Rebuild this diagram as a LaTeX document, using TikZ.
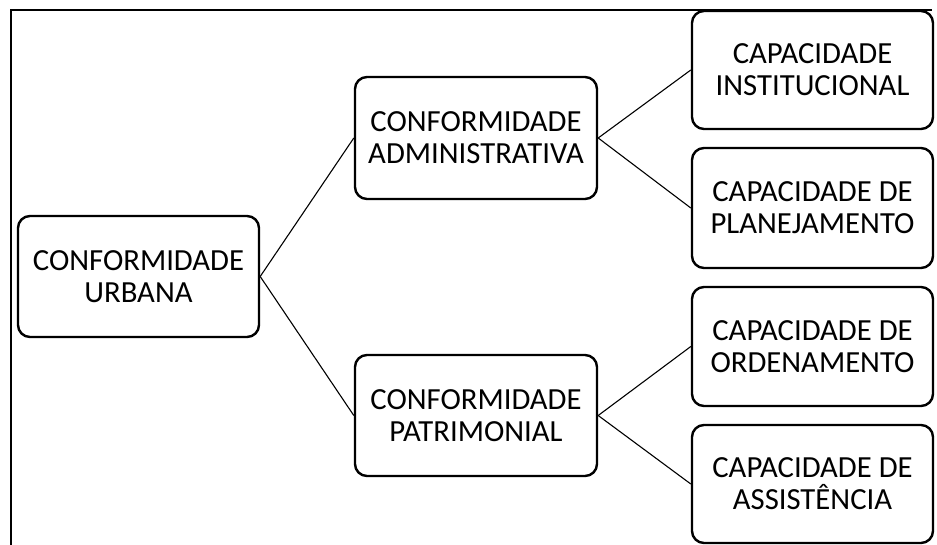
\documentclass[tikz,border=0pt]{standalone}
\usepackage{fontspec}
\setmainfont{Carlito}
\begin{document}
\begin{tikzpicture}[x=1pt,y=-1pt,
  box/.style={draw, line width=2.4pt, rounded corners=12pt, align=center,
    font=\fontsize{30.7}{32}\selectfont, inner sep=0pt},
  link/.style={line width=1.1pt}]
\useasboundingbox (0,0) rectangle (937,545);
% outer frame (top and left edges)
\draw[line width=2.6pt] (11,545) -- (11,10) -- (932,10);
% boxes
\node[box, minimum width=241pt, minimum height=121pt] (urb) at (138.5,276.5) {CONFORMIDADE\\URBANA};
\node[box, minimum width=242pt, minimum height=122pt] (adm) at (476,138) {CONFORMIDADE\\ADMINISTRATIVA};
\node[box, minimum width=242pt, minimum height=121pt] (pat) at (476,415.5) {CONFORMIDADE\\PATRIMONIAL};
\node[box, fill=white, minimum width=241pt, minimum height=118pt] (c1) at (812.5,70) {CAPACIDADE\\INSTITUCIONAL};
\node[box, minimum width=241pt, minimum height=120pt] (c2) at (812.5,208) {CAPACIDADE DE\\PLANEJAMENTO};
\node[box, minimum width=241pt, minimum height=119pt] (c3) at (812.5,346.5) {CAPACIDADE DE\\ORDENAMENTO};
\node[box, minimum width=241pt, minimum height=118pt] (c4) at (812.5,484) {CAPACIDADE DE\\ASSISTÊNCIA};
% connectors
\draw[link] (urb.east) -- (adm.west);
\draw[link] (urb.east) -- (pat.west);
\draw[link] (adm.east) -- (c1.west);
\draw[link] (adm.east) -- (c2.west);
\draw[link] (pat.east) -- (c3.west);
\draw[link] (pat.east) -- (c4.west);
\end{tikzpicture}
\end{document}
